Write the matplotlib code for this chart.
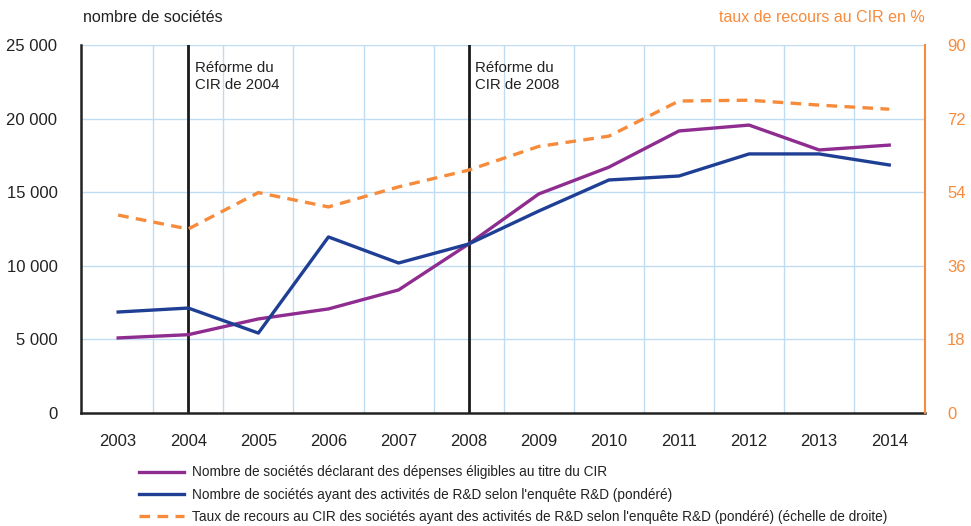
import matplotlib
matplotlib.use("Agg")
from matplotlib import pyplot as plt
from matplotlib.ticker import FixedLocator, FuncFormatter

plt.rcParams["font.family"] = ["Liberation Sans", "DejaVu Sans"]

years = [2003, 2004, 2005, 2006, 2007, 2008, 2009, 2010, 2011, 2012, 2013, 2014]
declarants = [5100, 5320, 6390, 7070, 8360, 11480, 14880, 16700, 19160, 19560, 17870, 18200]
enquete_rd = [6860, 7130, 5430, 11960, 10190, 11480, 13720, 15830, 16100, 17600, 17600, 16850]
taux_recours = [48.4, 45.0, 53.9, 50.4, 55.3, 59.4, 65.2, 67.7, 76.3, 76.5, 75.3, 74.3]

reformes = [2004, 2008]
reforme_labels = ["Réforme du\nCIR de 2004", "Réforme du\nCIR de 2008"]

left_ticks = [0, 5000, 10000, 15000, 20000, 25000]
right_ticks = [0, 18, 36, 54, 72, 90]

labels = [
    "Nombre de sociétés déclarant des dépenses éligibles au titre du CIR",
    "Nombre de sociétés ayant des activités de R&D selon l'enquête R&D (pondéré)",
    "Taux de recours au CIR des sociétés ayant des activités de R&D selon l'enquête R&D (pondéré) (échelle de droite)",
]

PURPLE = "#8E2C90"
BLUE = "#1F3F95"
ORANGE = "#F68B3C"
GRID = "#BEDDF3"
TEXT = "#222222"


def main():
    fig = plt.figure(figsize=(9.71, 5.26), dpi=100)
    ax = fig.add_axes([81 / 971, 113 / 526, 844 / 971, 368 / 526])
    ax2 = ax.twinx()

    ax.set_xlim(2002.47, 2014.51)
    ax.set_ylim(0, 25000)
    ax2.set_ylim(0, 90)

    # grid: vertical lines at half years, horizontal at each tick
    for x in [y + 0.5 for y in years[:-1]]:
        ax.axvline(x, color=GRID, lw=1, zorder=0)
    for v in left_ticks[1:]:
        ax.axhline(v, color=GRID, lw=1, zorder=0)

    for yr, txt in zip(reformes, reforme_labels):
        ax.axvline(yr, color="#1a1a1a", lw=2, zorder=1)
        ax.text(yr + 0.09, 23900, txt, fontsize=10.8, color=TEXT, va="top", ha="left",
                linespacing=1.25)

    l1, = ax.plot(years, declarants, color=PURPLE, lw=2.4, zorder=3)
    l2, = ax.plot(years, enquete_rd, color=BLUE, lw=2.4, zorder=3)
    l3, = ax2.plot(years, taux_recours, color=ORANGE, lw=2.4, ls=(0, (3.2, 2.2)), zorder=3)

    ax.set_xticks(years)
    ax.yaxis.set_major_locator(FixedLocator(left_ticks))
    ax.yaxis.set_major_formatter(FuncFormatter(lambda v, p: f"{int(v):,}".replace(",", " ")))
    ax2.yaxis.set_major_locator(FixedLocator(right_ticks))

    ax.tick_params(axis="both", length=0, labelsize=12, colors=TEXT)
    ax.tick_params(axis="x", pad=15)
    ax.tick_params(axis="y", pad=17)
    ax2.tick_params(axis="y", length=0, labelsize=12, colors=ORANGE, pad=16)

    for a in (ax, ax2):
        a.spines["top"].set_visible(False)
    ax.spines["right"].set_visible(False)
    ax2.spines["left"].set_visible(False)
    ax2.spines["bottom"].set_visible(False)
    ax2.spines["right"].set_color(ORANGE)
    ax2.spines["right"].set_linewidth(1.5)
    ax.spines["left"].set_linewidth(1.8)
    ax.spines["bottom"].set_linewidth(1.8)
    ax.spines["left"].set_color("#222222")
    ax.spines["bottom"].set_color("#222222")

    fig.text(83 / 971, 1 - 18 / 526, "nombre de sociétés", fontsize=11.5, color=TEXT,
             ha="left", va="center")
    fig.text(925 / 971, 1 - 18 / 526, "taux de recours au CIR en %", fontsize=11.5,
             color=ORANGE, ha="right", va="center")

    fig.legend([l1, l2, l3], labels, loc="upper left",
               bbox_to_anchor=(134 / 971, 1 - 460 / 526), frameon=False,
               fontsize=9.8, handlelength=3.3, handletextpad=0.55,
               labelspacing=0.6, borderaxespad=0, labelcolor=TEXT)
    return fig


if __name__ == "__main__":
    fig = main()
    fig.savefig("out.png", dpi=100)
